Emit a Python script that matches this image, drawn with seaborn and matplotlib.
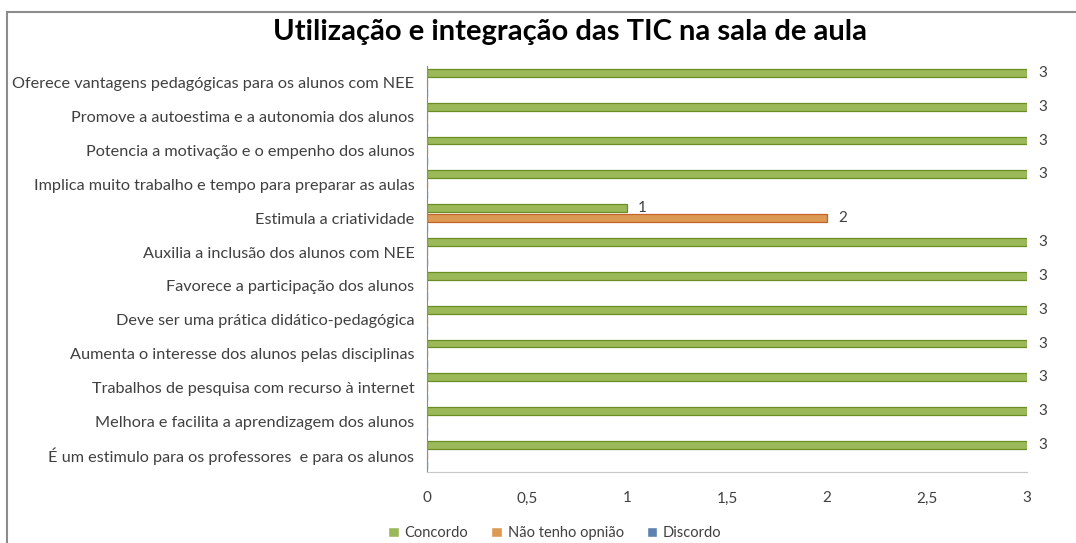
import pandas as pd
import numpy as np
import seaborn as sns
import matplotlib.pyplot as plt
from matplotlib.patches import Rectangle

# Dados
categorias = [
    'Oferece vantagens pedagógicas para os alunos com NEE',
    'Promove a autoestima e a autonomia dos alunos',
    'Potencia a motivação e o empenho dos alunos',
    'Implica muito trabalho e tempo para preparar as aulas',
    'Estimula a criatividade',
    'Auxilia a inclusão dos alunos com NEE',
    'Favorece a participação dos alunos',
    'Deve ser uma prática didático-pedagógica',
    'Aumenta o interesse dos alunos pelas disciplinas',
    'Trabalhos de pesquisa com recurso à internet',
    'Melhora e facilita a aprendizagem dos alunos',
    'É um estimulo para os professores  e para os alunos',
]
concordo = [3, 3, 3, 3, 1, 3, 3, 3, 3, 3, 3, 3]
nao_tenho = [0, 0, 0, 0, 2, 0, 0, 0, 0, 0, 0, 0]
discordo = [0, 0, 0, 0, 0, 0, 0, 0, 0, 0, 0, 0]
series = ['Concordo', 'Não tenho opnião', 'Discordo']
cores = ['#a2c94a', '#f49a3e', '#4f81bd']
bordas = ['#6b8e23', '#c0642a', '#2f5a8f']

df = pd.DataFrame({'categoria': categorias * 3,
                   'serie': np.repeat(series, len(categorias)),
                   'valor': concordo + nao_tenho + discordo})

sns.set_style('white')
plt.rcParams['font.family'] = ['Lato', 'DejaVu Sans']

fig = plt.figure(figsize=(10.76, 5.43), dpi=100)
ax = fig.add_axes([427 / 1076, 1 - 472 / 543, 600 / 1076, 406 / 543])

sns.barplot(data=df, y='categoria', x='valor', hue='serie', order=categorias,
            hue_order=series, palette=cores, orient='h', width=0.89, gap=0.22,
            ax=ax, legend=True)

for cont, borda in zip(ax.containers, bordas):
    for barra in cont:
        barra.set_edgecolor(borda)
        barra.set_linewidth(0.9)
    rotulos = ['%g' % b.get_width() if b.get_width() > 0 else '' for b in cont]
    ax.bar_label(cont, labels=rotulos, padding=8, fontsize=11, color='#404040')

ax.set_xlim(0, 3)
ax.set_xticks([0, 0.5, 1, 1.5, 2, 2.5, 3])
ax.set_xticklabels(['0', '0,5', '1', '1,5', '2', '2,5', '3'])
ax.set_xlabel('')
ax.set_ylabel('')
ax.tick_params(axis='y', length=0, pad=9, labelsize=11.7, labelcolor='#404040')
ax.tick_params(axis='x', length=0, pad=14, labelsize=11, labelcolor='#404040')
for s in ['top', 'right']:
    ax.spines[s].set_visible(False)
ax.spines['left'].set_color('#8c8c8c')
ax.spines['bottom'].set_color('#c8c8c8')

ax.legend(loc='center', bbox_to_anchor=(555 / 1076, 10 / 543),
          bbox_transform=fig.transFigure, ncol=3, frameon=False, fontsize=10.5,
          handlelength=0.7, handleheight=0.7, handletextpad=0.4, columnspacing=1.6,
          labelcolor='#404040')

fig.text(570 / 1076, 1 - 32 / 543, 'Utilização e integração das TIC na sala de aula',
         ha='center', va='center', fontsize=21, fontweight='bold', color='#000000')

# moldura do gráfico
fig.patches.append(Rectangle((7 / 1076, -0.1), 1.2, 1.1 - 12 / 543,
                             transform=fig.transFigure, fill=False,
                             edgecolor='#8c8c8c', linewidth=1.5))

plt.savefig('out.png', dpi=100)
